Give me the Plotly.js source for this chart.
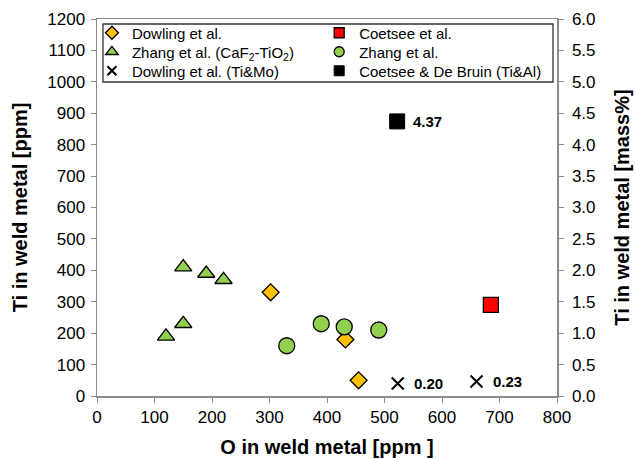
<!DOCTYPE html>
<html><head><meta charset="utf-8">
<script src="https://cdn.plot.ly/plotly-3.0.1.min.js"></script>
<style>html,body{margin:0;padding:0;background:#fff}</style>
</head><body><div id="plot" style="width:635px;height:459px"></div>
<script>
// O [ppm] and Ti [ppm] (left axis) or Ti [mass%] (right axis)
const dowlingO = [302, 432, 455];
const dowlingTi = [330, 180, 50];
const coetseeO = [685];
const coetseeTi = [290];
const zhangCaFO = [120, 150, 150, 190, 220];
const zhangCaFTi = [190, 230, 410, 390, 370];
const zhangO = [330, 390, 430, 490];
const zhangTi = [160, 230, 220, 210];
const dowlingTiMoO = [523, 660];
const dowlingTiMoPct = [0.20, 0.23];
const coetseeDBO = [522];
const coetseeDBPct = [4.37];
const seriesNames = ['Dowling et al.', 'Coetsee et al.', 'Zhang et al. (CaF<sub>2</sub>-TiO<sub>2</sub>)',
  'Zhang et al.', 'Dowling et al. (Ti&Mo)', 'Coetsee & De Bruin (Ti&Al)'];

const F = 'Liberation Sans, Arial, sans-serif';
const mk = {
  dowling:{symbol:'diamond', color:'#FFC000', line:{color:'#000', width:1.3}},
  coetsee:{symbol:'square', color:'#FF0000', line:{color:'#000', width:1.3}},
  zhangCaF:{symbol:'triangle-up', color:'#92D050', line:{color:'#000', width:1.3}},
  zhang:{symbol:'circle', color:'#92D050', line:{color:'#000', width:1.3}},
  tiMo:{symbol:'x-thin-open', color:'#000', line:{color:'#000', width:2}},
  db:{symbol:'square', color:'#000', line:{color:'#000', width:1}}
};
const sz = (m, s) => Object.assign({}, m, {size:s});
const data = [
  {x:dowlingO, y:dowlingTi, marker:sz(mk.dowling,13)},
  {x:coetseeO, y:coetseeTi, marker:sz(mk.coetsee,15)},
  {x:zhangCaFO, y:zhangCaFTi, marker:sz(mk.zhangCaF,15)},
  {x:zhangO, y:zhangTi, marker:sz(mk.zhang,16)},
  {x:dowlingTiMoO, y:dowlingTiMoPct, yaxis:'y2', marker:sz(mk.tiMo,12)},
  {x:coetseeDBO, y:coetseeDBPct, yaxis:'y2', marker:sz(mk.db,15)}
].map(t => Object.assign({type:'scatter', mode:'markers', showlegend:false, hoverinfo:'skip'}, t));

// legend entries (small symbols, as in the reference legend)
const legMarkers = [sz(mk.dowling,10), sz(mk.coetsee,10), sz(mk.zhangCaF,11), sz(mk.zhang,10), sz(mk.tiMo,9), sz(mk.db,10)];
const legIds = ['legend','legend2','legend3','legend4','legend5','legend6'];
const legTraces = seriesNames.map((n,i)=>({type:'scatter', mode:'markers', x:[null], y:[null], name:n,
  legend:legIds[i], showlegend:true, marker:legMarkers[i]}));

const anns = [];
dowlingTiMoO.forEach((o,i)=>anns.push({x:o, y:dowlingTiMoPct[i], xref:'x', yref:'y2', text:dowlingTiMoPct[i].toFixed(2),
  showarrow:false, xanchor:'left', xshift:14, font:{family:F, size:15, color:'#000', weight:'bold'}}));
coetseeDBO.forEach((o,i)=>anns.push({x:o, y:coetseeDBPct[i], xref:'x', yref:'y2', text:coetseeDBPct[i].toFixed(2),
  showarrow:false, xanchor:'left', xshift:14, font:{family:F, size:15, color:'#000', weight:'bold'}}));

const axCommon = {showgrid:false, zeroline:false, showline:true, linecolor:'#8c8c8c', linewidth:1.5,
  ticks:'outside', ticklen:5, tickcolor:'#8c8c8c', tickfont:{family:F, size:17, color:'#000'}};
const titleFont = {family:F, size:20, color:'#000', weight:'bold'};

const layout = {
  width:635, height:459, paper_bgcolor:'#fff', plot_bgcolor:'#fff',
  margin:{l:97, r:78, t:19, b:63},
  showlegend:true,
  xaxis:Object.assign({}, axCommon, {range:[0,800], dtick:100, mirror:true,
    title:{text:'O in weld metal [ppm ]', font:titleFont, standoff:14}}),
  yaxis:Object.assign({}, axCommon, {range:[0,1200], dtick:100, ticklabelstandoff:2,
    title:{text:'Ti in weld metal [ppm]', font:titleFont, standoff:14}}),
  yaxis2:Object.assign({}, axCommon, {range:[0,6], dtick:0.5, tickformat:'.1f', overlaying:'y', side:'right',
    ticklabelstandoff:5, title:{text:'Ti in weld metal [mass%]', font:titleFont, standoff:20}}),
  shapes:[{type:'rect', xref:'paper', yref:'paper', x0:6/460, x1:456/460, y0:(396-82)/377, y1:(396-24)/377,
    line:{color:'#333', width:1.3}, fillcolor:'rgba(0,0,0,0)'}],
  annotations:anns
};
const colX = [-0.011, 0.483];
const rowY = [(396-33)/377, (396-52)/377, (396-71)/377];
legIds.forEach((id,i)=>{
  layout[id] = {x:colX[i%2], y:rowY[Math.floor(i/2)], xanchor:'left', yanchor:'middle',
    bgcolor:'rgba(0,0,0,0)', borderwidth:0, font:{family:F, size:15, color:'#000'}, itemwidth:30};
});
Plotly.newPlot('plot', data.concat(legTraces), layout, {staticPlot:true});
</script></body></html>
